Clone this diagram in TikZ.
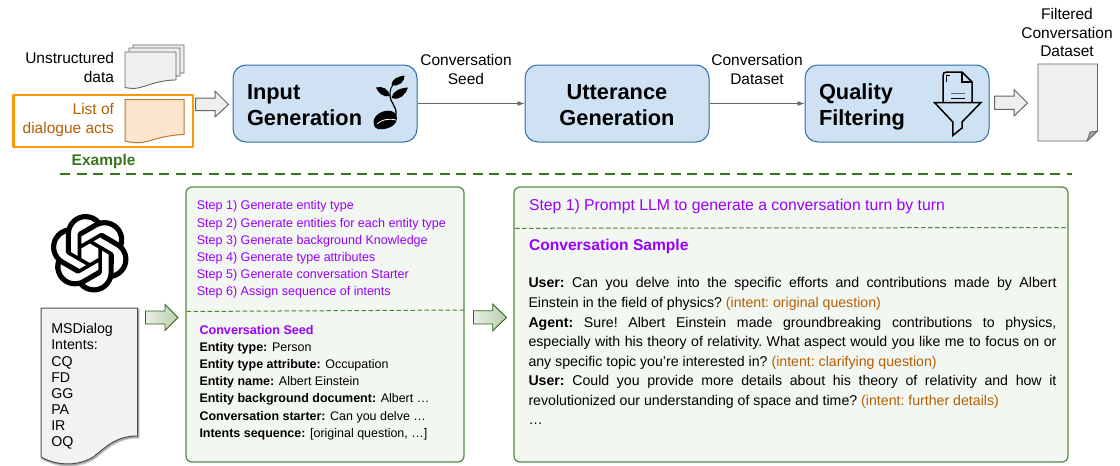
\documentclass[tikz,border=0pt]{standalone}
\usepackage{fontspec}
\setmainfont{Liberation Sans}
\usetikzlibrary{shadows,calc,arrows.meta,svg.path}
\definecolor{flowfill}{HTML}{CFE2F3}
\definecolor{flowline}{HTML}{2B6CA8}
\definecolor{grnline}{HTML}{38761D}
\definecolor{grnbox}{HTML}{F3F7F1}
\definecolor{purp}{HTML}{9900FF}
\definecolor{ochre}{HTML}{B45F06}
\definecolor{peach}{HTML}{FCE5CD}
\definecolor{docgrey}{HTML}{EFEFEF}
\definecolor{lineg}{HTML}{666666}
\newcommand{\fs}[1]{\fontsize{#1}{#1}\selectfont}
\tikzset{
  txt/.style={inner sep=0pt,outer sep=0pt,text=black},
  lab/.style={txt,font=\fs{15.5},align=center,anchor=base},
  labr/.style={txt,font=\fs{15.5},anchor=base east},
  flowbox/.style={draw=flowline,fill=flowfill,line width=1pt,rounded corners=13pt,minimum width=184pt,minimum height=77pt,inner sep=0pt},
  flowtxt/.style={txt,font=\bfseries\fs{21.8},anchor=base west},
  conn/.style={draw=lineg,line width=0.9pt,-{Latex[length=7pt,width=5pt]}},
  blockarrow/.style={draw=lineg,fill=docgrey,line width=1pt},
  greenarrow/.style={draw=grnline!85!black,line width=0.9pt,left color=grnline!12,right color=grnline!35},
  doc/.style={draw=lineg,fill=docgrey,line width=0.9pt},
  greenbox/.style={draw=grnline!85,fill=grnbox,line width=1.2pt,rounded corners=6pt,inner sep=0pt},
  inner dash/.style={draw=grnline!90,line width=1pt,dash pattern=on 4.5pt off 2.5pt},
  steptxt/.style={txt,font=\fs{12.55},text=purp,anchor=base west},
  seedtxt/.style={txt,font=\fs{12.47},anchor=base west},
  intenttxt/.style={txt,font=\fs{14.2},anchor=base west},
}
\begin{document}
\begin{tikzpicture}[x=1pt,y=-1pt]
\useasboundingbox (0,0) rectangle (1120,466);

% --- top row documents
\foreach \dx/\dy in {8/-7,4/-4,0/0}{
  \draw[doc,shift={(\dx,\dy)}] (125,52) -- (176,52) -- (176,80) .. controls (160,80) and (150,85) .. (140,87.5) .. controls (135,89) and (130,88.5) .. (125,87.5) -- cycle;
}
\node[labr] (unstr1) at (114,63) {Unstructured};
\node[labr] (unstr2) at (114,82) {data};

\draw[draw=orange!80!yellow,line width=2.2pt,line join=round] (13.5,95) rectangle (193,147);
\node[labr,text=ochre] (list1) at (114,114) {List of};
\node[labr,text=ochre] (list2) at (114,133) {dialogue acts};
\draw[draw=ochre!85,fill=peach,line width=1pt] (125,99.5) -- (184,99.5) -- (184,134.5) .. controls (168,135) and (155,139) .. (147,141.5) .. controls (140,143.5) and (132,143) .. (125,141) -- cycle;
\node[txt,font=\bfseries\fs{15.5},text=grnline,anchor=base west] (example) at (71.7,165.7) {Example};

\draw[blockarrow] (195.5,98) -- (215,98) -- (215,91) -- (228.5,104.5) -- (215,117) -- (215,110.7) -- (195.5,110.7) -- cycle;
\draw[blockarrow] (994.5,96) -- (1014,96) -- (1014,89.5) -- (1027.5,103) -- (1014,116) -- (1014,109.3) -- (994.5,109.3) -- cycle;

% --- flow boxes
\node[flowbox] (input) at (325,103.5) {};
\node[flowbox] (utter) at (617,103.5) {};
\node[flowbox] (quality) at (897,103.5) {};
\draw[conn] (input.east) -- (utter.west);
\draw[conn] (utter.east) -- (quality.west);

\node[flowtxt] (in1) at (247,99) {Input};
\node[flowtxt] (in2) at (247,125) {Generation};
\node[flowtxt,anchor=base] (ut1) at (617,99) {Utterance};
\node[flowtxt,anchor=base] (ut2) at (617,125) {Generation};
\node[flowtxt] (qu1) at (819,99) {Quality};
\node[flowtxt] (qu2) at (819,125) {Filtering};

\node[lab] (seed1) at (466,65) {Conversation};
\node[lab] (seed2) at (466,84) {Seed};
\node[lab] (ds1) at (757,65) {Conversation};
\node[lab] (ds2) at (757,84) {Dataset};
\node[lab] (fil1) at (1067,19) {Filtered};
\node[lab] (fil2) at (1067,38) {Conversation};
\node[lab] (fil3) at (1067,56) {Dataset};

% --- sprout icon
\begin{scope}
\fill[black] (373.5,122) .. controls (374,114) and (384,109.5) .. (391,111) .. controls (397,112.5) and (398,118) .. (396,122) .. controls (393,128) and (383,130) .. (378,129) .. controls (374.5,128) and (373.5,125) .. (373.5,122) -- cycle;
\draw[white,line width=0.8pt] (377,124) .. controls (381,120) and (388,118) .. (396,120);
\draw[black,line width=1.3pt] (390,95) .. controls (390,103) and (397,106) .. (396,115);
\draw[black,line width=1pt] (390,95) .. controls (390,90) and (391,86) .. (395,83);
\fill[black] (391.5,85) .. controls (391.5,79) and (398,76.5) .. (404.5,75.5) .. controls (405,81) and (399,87.5) .. (391.5,85) -- cycle;
\fill[black] (391.5,98) .. controls (392.5,91) and (400,88) .. (408,87.5) .. controls (406,94) and (400,101) .. (391.5,98) -- cycle;
\fill[black] (390,96) .. controls (384,98) and (378,93) .. (376,87.5) .. controls (382,85.5) and (389,89) .. (390,96) -- cycle;
\end{scope}

% --- funnel icon
\begin{scope}[line join=miter]
\draw[black,line width=1.5pt,fill=flowfill] (943,102) -- (943,76) .. controls (943,73) and (944,72) .. (947,72) -- (962,72) -- (972,82) -- (972,102);
\draw[black,line width=1.3pt] (962,72) -- (962,82) -- (972,82);
\draw[black,line width=0.8pt] (946,82) -- (946,75) -- (950,75);
\draw[lineg,line width=1pt] (951,93) -- (965,93);
\draw[black,line width=1pt] (951,98.5) -- (965,98.5);
\draw[black,line width=1.5pt] (934.5,102.5) -- (981,102.5) -- (962,122) -- (962,128) -- (952.8,135.5) -- (952.8,122) -- cycle;
\end{scope}

% --- filtered doc
\draw[doc] (1038,64) -- (1097.5,64) -- (1097.5,131) -- (1087,141) -- (1038,141) -- cycle;
\draw[draw=lineg,fill=lineg!60,line width=0.7pt] (1097.5,131) -- (1090,132) -- (1087,141) -- cycle;

% --- separator
\draw[grnline,line width=2pt,dash pattern=on 10pt off 6.5pt] (60,174) -- (1072,174);

% --- knot logo
\begin{scope}[shift={(50.5,214)},xscale=3.27,yscale=-3.27]
\fill[black,even odd rule] svg {M 22.2819 9.8211 a 5.9847 5.9847 0 0 0 -0.5157 -4.9108 6.0462 6.0462 0 0 0 -6.5098 -2.9 A 6.0651 6.0651 0 0 0 4.9807 4.1818 a 5.9847 5.9847 0 0 0 -3.9977 2.9 6.0462 6.0462 0 0 0 0.7427 7.0966 5.98 5.98 0 0 0 0.511 4.9107 6.051 6.051 0 0 0 6.5146 2.9001 A 5.9847 5.9847 0 0 0 13.2599 24 a 6.0557 6.0557 0 0 0 5.7718 -4.2058 5.9894 5.9894 0 0 0 3.9977 -2.9001 6.0557 6.0557 0 0 0 -0.7475 -7.0729 z M 13.2599 22.4292 a 4.4755 4.4755 0 0 1 -2.8764 -1.0408 l 0.1419 -0.0804 4.7783 -2.7582 a 0.7948 0.7948 0 0 0 0.3927 -0.6813 v -6.7369 l 2.02 1.1686 a 0.071 0.071 0 0 1 0.038 0.052 v 5.5826 a 4.504 4.504 0 0 1 -4.4945 4.4944 z M 3.5992 18.3038 a 4.4708 4.4708 0 0 1 -0.5346 -3.0137 l 0.142 0.0852 4.783 2.7582 a 0.7712 0.7712 0 0 0 0.7806 0 l 5.8428 -3.3685 v 2.3324 a 0.0804 0.0804 0 0 1 -0.0332 0.0615 L 9.74 19.9502 a 4.4992 4.4992 0 0 1 -6.1408 -1.6464 z M 2.3408 7.8956 a 4.485 4.485 0 0 1 2.3655 -1.9728 V 11.6 a 0.7664 0.7664 0 0 0 0.3879 0.6765 l 5.8144 3.3543 -2.0201 1.1685 a 0.0757 0.0757 0 0 1 -0.071 0 l -4.8303 -2.7865 A 4.504 4.504 0 0 1 2.3408 7.872 z M 18.9371 11.7514 L 13.1038 8.364 15.1192 7.2 a 0.0757 0.0757 0 0 1 0.071 0 l 4.8303 2.7913 a 4.4944 4.4944 0 0 1 -0.6765 8.1042 v -5.6772 a 0.79 0.79 0 0 0 -0.407 -0.667 z M 20.9478 8.7283 l -0.142 -0.0852 -4.7735 -2.7818 a 0.7759 0.7759 0 0 0 -0.7854 0 L 9.409 9.2297 V 6.8974 a 0.0662 0.0662 0 0 1 0.0284 -0.0615 l 4.8303 -2.7866 a 4.4992 4.4992 0 0 1 6.6802 4.66 z M 8.3065 12.863 l -2.02 -1.1638 a 0.0804 0.0804 0 0 1 -0.038 -0.0567 V 6.0742 a 4.4992 4.4992 0 0 1 7.3757 -3.4537 l -0.142 0.0805 L 8.704 5.459 a 0.7948 0.7948 0 0 0 -0.3927 0.6813 z M 9.4041 10.4976 l 2.602 -1.4998 2.6069 1.4998 v 2.9994 l -2.5974 1.4997 -2.6067 -1.4997 Z};
\end{scope}

% --- MSDialog doc
\draw[draw=black!60,fill=black!60,opacity=0.35,line width=2pt,shift={(1,1.5)}] (41,308) -- (137.5,308) -- (137.5,436) .. controls (118,436) and (108,445) .. (97,454) .. controls (85,465) and (60,468) .. (41,457) -- cycle;
\draw[draw=black!70,fill=black!5,line width=1pt] (41,308) -- (137.5,308) -- (137.5,436) .. controls (118,436) and (108,445) .. (97,454) .. controls (85,465) and (60,468) .. (41,457) -- cycle;
\foreach \n/\t/\y in {a/MSDialog/333.3,b/Intents:/349.6,c/CQ/366,d/FD/382,e/GG/398,f/PA/414.3,g/IR/430.3,h/OQ/446.5}{
  \node[intenttxt] (msd\n) at (51.3,\y) {\t};
}

% --- green arrows
\draw[greenarrow] (145.5,311) -- (165,311) -- (165,304.5) -- (178,317.5) -- (165,330.5) -- (165,324) -- (145.5,324) -- cycle;
\draw[greenarrow] (473.5,310.7) -- (492.7,310.7) -- (492.7,304) -- (506.5,317.5) -- (492.7,330.7) -- (492.7,324) -- (473.5,324) -- cycle;

% --- left green box
\node[greenbox,minimum width=278pt,minimum height=275pt] (leftbox) at (325,324.5) {};
\draw[inner dash] (186.5,311.5) -- (464,310);
\foreach \n/\t/\y in {1/Step 1) Generate entity type/209.5,2/Step 2) Generate entities for each entity type/227,3/Step 3) Generate background Knowledge/244,4/Step 4) Generate type attributes/261,5/Step 5) Generate conversation Starter/278.5,6/Step 6) Assign sequence of intents/295.5}{
  \node[steptxt] (lstep\n) at (196.8,\y) {\t};
}
\node[seedtxt,text=purp,font=\bfseries\fs{12.6}] (seedh) at (199.5,334) {Conversation Seed};
\node[seedtxt] (s1) at (199.5,351) {\textbf{Entity type:} Person};
\node[seedtxt] (s2) at (199.5,368) {\textbf{Entity type attribute:} Occupation};
\node[seedtxt] (s3) at (199.5,385.5) {\textbf{Entity name:} Albert Einstein};
\node[seedtxt] (s4) at (199.5,402.5) {\textbf{Entity background document:} Albert …};
\node[seedtxt] (s5) at (199.5,420) {\textbf{Conversation starter:} Can you delve …};
\node[seedtxt] (s6) at (199.5,437.5) {\textbf{Intents sequence:} [original question, …]};

% --- right green box
\node[greenbox,minimum width=554pt,minimum height=275pt] (rightbox) at (791,324.5) {};
\draw[inner dash] (515,228.3) -- (1068,227.5);
\node[steptxt,font=\fs{15.75}] (rstep) at (529,210.5) {Step 1) Prompt LLM to generate a conversation turn by turn};
\node[steptxt,font=\bfseries\fs{15.6}] (csh) at (529,250) {Conversation Sample};
\node[txt,anchor=north west,text width=528pt,align=justify,font=\fs{14.15}] (conv) at (528.5,277.7) {\frenchspacing\baselineskip=19.55pt
\textbf{User:} Can you delve into the specific efforts and contributions made by Albert\linebreak
Einstein in the field of physics? {\color{ochre}(intent: original question)}\newline
\textbf{Agent:} Sure! Albert Einstein made groundbreaking contributions to physics,\linebreak
especially with his theory of relativity. What aspect would you like me to focus on or\linebreak
any specific topic you're interested in? {\color{ochre}(intent: clarifying question)}\newline
\textbf{User:} Could you provide more details about his theory of relativity and how it\linebreak
revolutionized our understanding of space and time? {\color{ochre}(intent: further details)}\newline
…\par};
\end{tikzpicture}
\end{document}
